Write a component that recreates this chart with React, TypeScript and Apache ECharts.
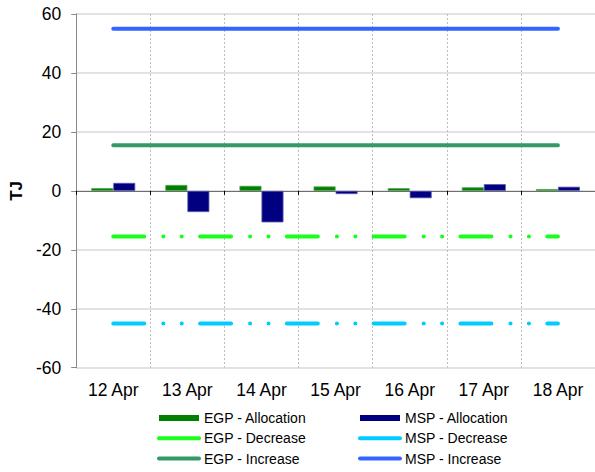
import React, { useEffect, useRef } from "react";
import * as echarts from "echarts";

const categories = ["12 Apr", "13 Apr", "14 Apr", "15 Apr", "16 Apr", "17 Apr", "18 Apr"];
const egpAllocation = [0.9, 2.0, 1.7, 1.5, 0.9, 1.2, 0.6];
const mspAllocation = [2.7, -7.2, -10.7, -1.1, -2.5, 2.3, 1.4];
const egpDecrease = [-15.5, -15.5, -15.5, -15.5, -15.5, -15.5, -15.5];
const mspDecrease = [-45, -45, -45, -45, -45, -45, -45];
const egpIncrease = [15.5, 15.5, 15.5, 15.5, 15.5, 15.5, 15.5];
const mspIncrease = [55, 55, 55, 55, 55, 55, 55];
const yTicks = { min: -60, max: 60, interval: 20 };

const FONT = "'Liberation Sans', Arial, sans-serif";
const dashDot = [31, 19, 0.1, 18.3, 0.1, 18.3];

export default function App() {
  const ref = useRef<HTMLDivElement>(null);
  useEffect(() => {
    if (!ref.current) return;
    const chart = echarts.init(ref.current, null, { renderer: "svg" });
    const legendCommon = {
      orient: "vertical" as const,
      top: 411,
      height: 61,
      padding: 0,
      itemWidth: 40,
      itemHeight: 6,
      itemGap: 6.3,
      textStyle: { fontFamily: FONT, fontSize: 14, color: "#000", lineHeight: 14 },
      lineStyle: { type: "solid" as const, cap: "round" as const, width: 4 },
      itemStyle: { borderWidth: 0 },
      selectedMode: false,
    };
    const hideSym = { opacity: 0 };
    chart.setOption({
      animation: false,
      textStyle: { fontFamily: FONT },
      grid: { left: 70, top: 14, right: -3, bottom: 104.3, containLabel: false },
      legend: [
        {
          ...legendCommon,
          left: 157,
          data: [
            { name: "EGP - Allocation", icon: "rect" },
            { name: "EGP - Decrease", itemStyle: hideSym },
            { name: "EGP - Increase", itemStyle: hideSym },
          ],
        },
        {
          ...legendCommon,
          left: 358,
          data: [
            { name: "MSP - Allocation", icon: "rect" },
            { name: "MSP - Decrease", itemStyle: hideSym },
            { name: "MSP - Increase", itemStyle: hideSym },
          ],
        },
      ],
      xAxis: [
        {
          type: "category",
          data: categories,
          position: "bottom",
          boundaryGap: true,
          axisLine: { show: false, onZero: false },
          axisTick: { show: false },
          axisLabel: { fontSize: 17.5, color: "#000", margin: 13, fontFamily: FONT },
          splitLine: { show: true, lineStyle: { color: "#bdbdbd", type: [2, 2], width: 1 } },
        },
        {
          type: "category",
          data: categories,
          position: "bottom",
          boundaryGap: true,
          axisLine: { show: true, onZero: true, lineStyle: { color: "#6e6e6e", width: 1 } },
          axisTick: { show: true, length: 4, lineStyle: { color: "#000" } },
          axisLabel: { show: false },
          splitLine: { show: false },
        },
      ],
      yAxis: {
        type: "value",
        min: yTicks.min,
        max: yTicks.max,
        interval: yTicks.interval,
        name: "TJ",
        nameLocation: "middle",
        nameRotate: 90,
        nameGap: 48,
        nameTextStyle: { fontSize: 17, fontWeight: "bold", color: "#000", fontFamily: FONT },
        axisLine: { show: true, lineStyle: { color: "#8a8a8a" } },
        axisTick: { show: true, length: 5, lineStyle: { color: "#8a8a8a" } },
        axisLabel: { fontSize: 17.5, color: "#000", margin: 15, fontFamily: FONT },
        splitLine: { show: true, lineStyle: { color: "#d9d9d9", width: 1.5 } },
      },
      series: [
        {
          name: "EGP - Allocation",
          type: "bar",
          data: egpAllocation,
          barWidth: 22,
          barGap: "0%",
          itemStyle: { color: "#007f00", borderColor: "#4aa24a", borderWidth: 0.8 },
        },
        {
          name: "MSP - Allocation",
          type: "bar",
          data: mspAllocation,
          barWidth: 22,
          barGap: "0%",
          itemStyle: { color: "#000080", borderColor: "#5a5ab0", borderWidth: 0.8 },
        },
        {
          name: "EGP - Decrease",
          type: "line",
          data: egpDecrease,
          symbol: "none",
          color: "#1aff1a",
          lineStyle: { color: "#1aff1a", width: 4, type: dashDot, cap: "round" },
        },
        {
          name: "MSP - Decrease",
          type: "line",
          data: mspDecrease,
          symbol: "none",
          color: "#00ccff",
          lineStyle: { color: "#00ccff", width: 4, type: dashDot, cap: "round" },
        },
        {
          name: "EGP - Increase",
          type: "line",
          data: egpIncrease,
          symbol: "none",
          color: "#339966",
          lineStyle: { color: "#339966", width: 4, cap: "round" },
        },
        {
          name: "MSP - Increase",
          type: "line",
          data: mspIncrease,
          symbol: "none",
          color: "#3366ff",
          lineStyle: { color: "#3366ff", width: 4, cap: "round" },
        },
      ],
    });
    return () => chart.dispose();
  }, []);
  return (
    <div
      ref={ref}
      style={{ position: "absolute", left: 0, top: 0, width: 595, height: 472 }}
    />
  );
}
